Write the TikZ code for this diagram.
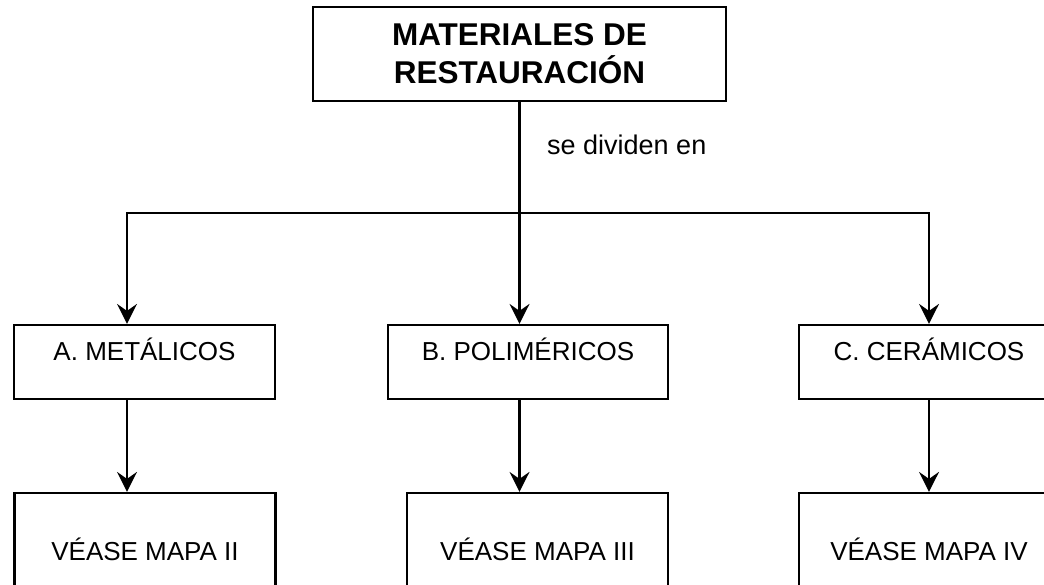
\documentclass[tikz,border=0pt]{standalone}
\usepackage{fontspec}
\setmainfont{Liberation Sans}
\usetikzlibrary{arrows.meta}
\tikzset{
  box/.style={draw=black, line width=2.2pt, rectangle, inner sep=0pt, align=center},
  midbox/.style={box, minimum height=74pt, text height=18.6pt, text depth=21pt, font=\fontsize{26}{31}\selectfont},
  lowbox/.style={box, minimum height=112pt, font=\fontsize{26}{31}\selectfont},
  conn/.style={draw=black, line width=2.2pt},
  arr/.style={conn, -{Stealth[length=20pt, width=20pt, inset=7pt]}},
}
\begin{document}
\begin{tikzpicture}[x=1pt, y=-1pt]
\useasboundingbox (0,0) rectangle (1044,584);
\clip (0,0) rectangle (1044,584);
\fill[white] (0,0) rectangle (1044,584);

\node[box, minimum width=413pt, minimum height=94pt, font=\fontsize{31.5}{38}\selectfont\bfseries] (top) at (519.5,54) {MATERIALES DE\\RESTAURACIÓN};

\node[midbox, minimum width=261pt] (A) at (144.5,362) {A. METÁLICOS};
\node[midbox, minimum width=280pt] (B) at (528,362) {B. POLIMÉRICOS};
\node[midbox, minimum width=260pt] (C) at (929,362) {C. CERÁMICOS};

\node[lowbox, minimum width=261pt] (A2) at (145,549) {VÉASE MAPA II};
\node[lowbox, minimum width=261pt] (B2) at (537.5,549) {VÉASE MAPA III};
\node[lowbox, minimum width=260pt] (C2) at (929,549) {VÉASE MAPA IV};

\node[anchor=base west, inner sep=0pt, font=\fontsize{27}{32}\selectfont] (lbl) at (547,154) {se dividen en};

\coordinate (jA) at (127,213);
\coordinate (jB) at (519.5,213);
\coordinate (jC) at (929,213);

\draw[conn] (top.south) -- (jB);
\draw[conn, line cap=rect] (jA) -- (jC);
\draw[arr] (jA) -- (A.north -| jA);
\draw[arr] (jB) -- (B.north -| jB);
\draw[arr] (jC) -- (C.north -| jC);
\draw[arr] (A.south -| jA) -- (A2.north -| jA);
\draw[arr] (B.south -| jB) -- (B2.north -| jB);
\draw[arr] (C.south -| jC) -- (C2.north -| jC);
\end{tikzpicture}
\end{document}
